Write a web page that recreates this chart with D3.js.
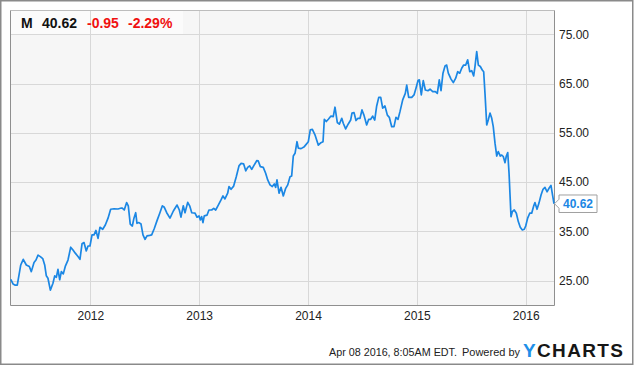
<!DOCTYPE html>
<html>
<head>
<meta charset="utf-8">
<script src="https://cdn.jsdelivr.net/npm/d3@7"></script>
<style>
  html, body { margin: 0; padding: 0; background: #fff; }
  svg { display: block; font-family: "Liberation Sans", Arial, sans-serif; }
</style>
</head>
<body>
<svg id="chart" width="635" height="366"></svg>
<script>
// ---- data (decimal years, closing price) ----
const years = [
  2011.269, 2011.290, 2011.311, 2011.329, 2011.361, 2011.384, 2011.412, 2011.440, 2011.458, 2011.483,
  2011.501, 2011.520, 2011.541, 2011.563, 2011.581, 2011.596, 2011.611, 2011.633, 2011.657, 2011.673,
  2011.688, 2011.703, 2011.719, 2011.734, 2011.752, 2011.770, 2011.795, 2011.820, 2011.841, 2011.862,
  2011.887, 2011.905, 2011.924, 2011.942, 2011.963, 2011.979, 2011.997, 2012.016, 2012.034, 2012.052,
  2012.071, 2012.089, 2012.114, 2012.138, 2012.163, 2012.187, 2012.218, 2012.254, 2012.285, 2012.294,
  2012.312, 2012.334, 2012.349, 2012.367, 2012.386, 2012.401, 2012.417, 2012.429, 2012.447, 2012.466,
  2012.484, 2012.503, 2012.521, 2012.546, 2012.564, 2012.588, 2012.613, 2012.638, 2012.662, 2012.680,
  2012.702, 2012.732, 2012.763, 2012.797, 2012.818, 2012.833, 2012.854, 2012.870, 2012.895, 2012.913,
  2012.932, 2012.962, 2012.980, 2012.999, 2013.011, 2013.023, 2013.035, 2013.047, 2013.072, 2013.090,
  2013.115, 2013.134, 2013.152, 2013.176, 2013.201, 2013.219, 2013.237, 2013.262, 2013.274, 2013.293,
  2013.317, 2013.341, 2013.366, 2013.384, 2013.409, 2013.428, 2013.446, 2013.464, 2013.483, 2013.501,
  2013.529, 2013.543, 2013.562, 2013.589, 2013.611, 2013.630, 2013.651, 2013.672, 2013.690, 2013.703,
  2013.715, 2013.734, 2013.752, 2013.773, 2013.795, 2013.814, 2013.835, 2013.850, 2013.865, 2013.881,
  2013.899, 2013.911, 2013.936, 2013.966, 2014.003, 2014.021, 2014.040, 2014.064, 2014.095, 2014.119,
  2014.138, 2014.150, 2014.168, 2014.187, 2014.211, 2014.232, 2014.248, 2014.269, 2014.288, 2014.310,
  2014.324, 2014.346, 2014.370, 2014.392, 2014.404, 2014.423, 2014.441, 2014.459, 2014.478, 2014.496,
  2014.514, 2014.539, 2014.558, 2014.576, 2014.594, 2014.613, 2014.631, 2014.650, 2014.668, 2014.686,
  2014.707, 2014.729, 2014.747, 2014.769, 2014.790, 2014.808, 2014.827, 2014.845, 2014.870, 2014.894,
  2014.907, 2014.925, 2014.953, 2014.974, 2014.992, 2015.011, 2015.023, 2015.041, 2015.059, 2015.078,
  2015.102, 2015.121, 2015.146, 2015.170, 2015.188, 2015.206, 2015.222, 2015.240, 2015.259, 2015.274,
  2015.289, 2015.314, 2015.335, 2015.357, 2015.375, 2015.394, 2015.412, 2015.430, 2015.449, 2015.467,
  2015.486, 2015.504, 2015.522, 2015.534, 2015.550, 2015.565, 2015.583, 2015.601, 2015.614, 2015.626,
  2015.642, 2015.656, 2015.672, 2015.688, 2015.702, 2015.718, 2015.734, 2015.748, 2015.767, 2015.780,
  2015.794, 2015.810, 2015.822, 2015.835, 2015.847, 2015.865, 2015.877, 2015.895, 2015.914, 2015.932,
  2015.950, 2015.969, 2015.987, 2016.000, 2016.018, 2016.037, 2016.055, 2016.074, 2016.085, 2016.104,
  2016.122, 2016.141, 2016.159, 2016.177, 2016.196, 2016.214, 2016.232, 2016.248, 2016.260
];
const prices = [
  25.3, 24.35, 24.1, 24.1, 28.2, 29.35, 28.2, 27.9, 26.85, 28.7,
  29.2, 30.2, 29.9, 29.5, 28.2, 26.0, 25.5, 23.1, 24.5, 26.0,
  25.7, 27.3, 25.2, 26.85, 26.4, 27.9, 29.2, 31.8, 31.25, 30.6,
  29.9, 29.35, 32.5, 32.75, 31.05, 32.05, 32.05, 34.3, 34.3, 35.2,
  33.6, 35.85, 35.45, 36.3, 37.7, 39.5, 39.6, 39.55, 39.75, 39.75,
  39.35, 40.85, 40.2, 36.5, 36.1, 37.7, 38.8, 36.65, 36.8, 36.5,
  34.3, 33.4, 34.1, 34.2, 34.3, 35.6, 37.2, 38.7, 40.2, 39.9,
  38.8, 37.7, 39.15, 40.35, 39.35, 37.9, 40.2, 38.8, 40.9, 40.2,
  38.8, 38.7, 37.9, 38.15, 37.35, 38.0, 36.8, 38.15, 38.3, 39.35,
  39.35, 39.7, 39.35, 40.35, 41.4, 42.2, 41.6, 42.75, 44.1, 43.55,
  44.2, 46.1, 48.3, 48.8, 48.7, 47.3, 48.0, 48.3, 47.6, 48.3,
  49.35, 49.3, 48.15, 48.0, 46.8, 45.45, 44.45, 44.1, 44.65, 43.95,
  45.45, 42.75, 43.95, 42.2, 43.75, 44.45, 46.1, 46.25, 50.3, 50.85,
  53.2, 51.9, 51.8, 52.2, 53.2, 55.6, 55.7, 54.6, 52.5, 53.0,
  53.2, 57.75, 57.3, 57.75, 58.4, 58.3, 60.2, 57.1, 56.75, 57.95,
  56.95, 55.8, 56.8, 57.6, 59.0, 59.1, 57.5, 57.95, 57.95, 59.65,
  58.6, 56.6, 57.75, 57.75, 58.4, 57.6, 60.45, 62.2, 62.2, 60.0,
  60.45, 58.6, 58.15, 56.25, 56.25, 58.15, 57.75, 59.3, 61.7, 63.0,
  64.7, 62.2, 62.2, 62.7, 64.05, 65.6, 65.75, 62.7, 65.6, 63.7,
  63.55, 63.85, 63.35, 63.35, 63.0, 65.75, 63.55, 67.1, 68.55, 68.75,
  67.1, 65.9, 65.2, 66.1, 67.4, 67.1, 68.1, 68.75, 68.75, 69.8,
  67.4, 67.6, 66.55, 68.45, 71.5, 68.75, 68.45, 67.75, 67.4, 63.0,
  56.6, 57.6, 59.0, 57.95, 56.25, 52.9, 50.3, 51.2, 50.3, 50.5,
  50.2, 48.95, 50.3, 51.0, 46.8, 38.0, 39.0, 39.35, 38.7, 37.0,
  35.85, 35.3, 35.45, 36.1, 37.7, 38.7, 38.7, 40.2, 40.85, 39.5,
  40.75, 42.4, 43.55, 43.95, 43.05, 43.75, 44.35, 42.2, 40.62
];
const yTicks = [25, 35, 45, 55, 65, 75];
const xTicks = [2012, 2013, 2014, 2015, 2016];
const ticker = "M";
const lastPrice = "40.62";
const change = "-0.95";
const changePct = "-2.29%";
const footerDate = "Apr 08 2016, 8:05AM EDT.";
const footerPowered = "Powered by";

// ---- layout ----
const svg = d3.select("#chart");
const plot = { left: 10.5, top: 10.5, right: 554.5, bottom: 305.5 };
const lineColor = "#1b87e4";

const x = d3.scaleLinear().domain([2012, 2016]).range([90.3, 525.7]);
const y = d3.scaleLinear().domain([20, 80]).range([305.4, 9.6]);

// outer border
svg.append("rect")
  .attr("x", 0.75).attr("y", 0.75).attr("width", 632).attr("height", 363.5)
  .attr("fill", "#fff").attr("stroke", "#8a8a8a").attr("stroke-width", 1.5);

// plot background
svg.append("rect")
  .attr("x", plot.left).attr("y", plot.top)
  .attr("width", plot.right - plot.left).attr("height", plot.bottom - plot.top)
  .attr("fill", "#f6f6f6");

// title box
svg.append("rect")
  .attr("x", plot.left).attr("y", plot.top)
  .attr("width", 172.5).attr("height", y(75) - plot.top)
  .attr("fill", "#fbfbfb");

// grid
const grid = svg.append("g").attr("stroke", "#d8d8d8").attr("stroke-width", 1);
grid.selectAll("line.h").data(yTicks).join("line")
  .attr("x1", plot.left).attr("x2", plot.right)
  .attr("y1", d => Math.round(y(d)) + 0.5).attr("y2", d => Math.round(y(d)) + 0.5);
grid.selectAll("line.v").data(xTicks).join("line")
  .attr("y1", plot.top).attr("y2", plot.bottom)
  .attr("x1", d => Math.round(x(d)) + 0.5).attr("x2", d => Math.round(x(d)) + 0.5);

// plot frame
svg.append("path")
  .attr("d", `M${plot.left},${plot.top}H${plot.right}`)
  .attr("stroke", "#bdbdbd").attr("fill", "none");
svg.append("path")
  .attr("d", `M${plot.left},${plot.top}V${plot.bottom}H${plot.right}V${plot.top}`)
  .attr("stroke", "#8f8f8f").attr("fill", "none");

// price line
const data = years.map((t, i) => ({ t, v: prices[i] }));
svg.append("path")
  .datum(data)
  .attr("fill", "none")
  .attr("stroke", lineColor)
  .attr("stroke-width", 1.7)
  .attr("stroke-linejoin", "round")
  .attr("d", d3.line().x(d => x(d.t)).y(d => y(d.v)));

// y axis labels
const yAxis = svg.append("g")
  .attr("transform", `translate(${plot.right},0)`)
  .call(d3.axisRight(y).tickValues(yTicks).tickSize(0).tickPadding(4.5).tickFormat(d3.format(".2f")));
yAxis.select(".domain").remove();
yAxis.selectAll("text").attr("font-size", 12).attr("fill", "#222")
  .attr("font-family", "'Liberation Sans', Arial, sans-serif");

// x axis labels
const xAxis = svg.append("g")
  .attr("transform", `translate(0,${plot.bottom})`)
  .call(d3.axisBottom(x).tickValues(xTicks).tickSize(0).tickPadding(6).tickFormat(d3.format("d")));
xAxis.select(".domain").remove();
xAxis.selectAll("text").attr("font-size", 12).attr("fill", "#222")
  .attr("font-family", "'Liberation Sans', Arial, sans-serif");

// last value flag
const ly = y(+lastPrice);
const bx = 559, bw = 38, bh = 17.5;
svg.append("path")
  .attr("d", `M${bx},${ly - bh / 2}H${bx + bw}V${ly + bh / 2}H${bx}V${ly + 4.5}L${bx - 4.5},${ly}L${bx},${ly - 4.5}Z`)
  .attr("fill", "#fff").attr("stroke", "#a0a0a0").attr("stroke-width", 1);
svg.append("text")
  .attr("x", bx + bw / 2).attr("y", ly + 4.3)
  .attr("text-anchor", "middle")
  .attr("font-size", 12).attr("font-weight", "bold")
  .attr("fill", lineColor)
  .text(lastPrice);

// title
svg.append("text").attr("x", 21).attr("y", 28).attr("font-size", 14).attr("font-weight", "bold")
  .attr("fill", "#111").text(ticker);
svg.append("text").attr("x", 42).attr("y", 28).attr("font-size", 14).attr("font-weight", "bold")
  .attr("fill", "#111").text(lastPrice);
svg.append("text").attr("x", 87).attr("y", 28).attr("font-size", 14).attr("font-weight", "bold")
  .attr("fill", "#f01010").text(change);
svg.append("text").attr("x", 128).attr("y", 28).attr("font-size", 14).attr("font-weight", "bold")
  .attr("fill", "#f01010").text(changePct);

// footer
svg.append("text").attr("x", 329).attr("y", 356)
  .attr("font-size", 11.5).attr("fill", "#222")
  .attr("textLength", 128).attr("lengthAdjust", "spacingAndGlyphs")
  .text(footerDate);
svg.append("text").attr("x", 462).attr("y", 356)
  .attr("font-size", 11.5).attr("fill", "#222")
  .attr("textLength", 58).attr("lengthAdjust", "spacingAndGlyphs")
  .text(footerPowered);
const logo = svg.append("text").attr("x", 523).attr("y", 356.7)
  .attr("font-size", 19).attr("font-weight", "bold")
  .attr("textLength", 100).attr("lengthAdjust", "spacing");
logo.append("tspan").attr("fill", "#1e8fe8").text("Y");
logo.append("tspan").attr("fill", "#161616").text("CHARTS");
</script>
</body>
</html>
